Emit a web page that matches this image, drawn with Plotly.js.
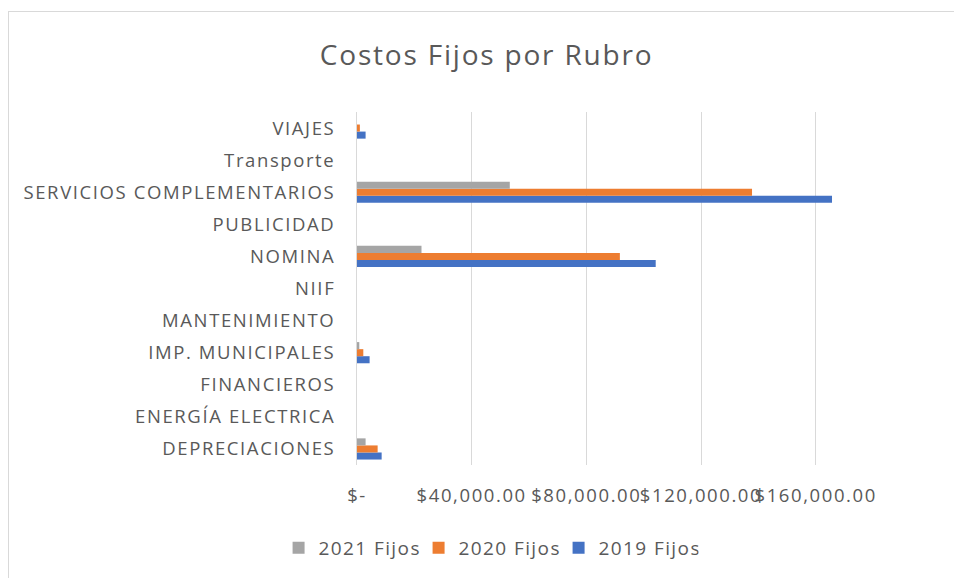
<!DOCTYPE html>
<html>
<head>
<meta charset="utf-8">
<script src="https://cdn.plot.ly/plotly-3.0.1.min.js"></script>
<style>
  html, body { margin: 0; padding: 0; background: #fff; }
  #wrap { position: relative; width: 954px; height: 578px; overflow: hidden; }
  #chart { position: absolute; left: 0; top: 0; width: 954px; height: 578px; }
  #frame { position: absolute; left: 8px; top: 11px; width: 960px; height: 600px;
           border-left: 1px solid #d9d9d9; border-top: 1px solid #d9d9d9; pointer-events: none; }
  .ytick text { letter-spacing: 1.6px; }
  .xtick text { letter-spacing: 1.6px; }
  .legendtext { letter-spacing: 1.4px; }
  .gtitle { letter-spacing: 1.8px; }
</style>
</head>
<body>
<div id="wrap">
  <div id="chart"></div>
  <div id="frame"></div>
</div>
<script>
const categories = ["DEPRECIACIONES", "ENERGÍA ELECTRICA", "FINANCIEROS", "IMP. MUNICIPALES",
  "MANTENIMIENTO", "NIIF", "NOMINA", "PUBLICIDAD", "SERVICIOS COMPLEMENTARIOS", "Transporte", "VIAJES"];
const fijos2019 = [8600, 0, 0, 4400, 0, 0, 104200, 0, 165700, 0, 3000];
const fijos2020 = [7200, 0, 0, 2200, 0, 0, 91700, 0, 137800, 0, 1000];
const fijos2021 = [3000, 0, 0, 800, 0, 0, 22500, 0, 53300, 0, 0];
const tickValues = [0, 40000, 80000, 120000, 160000];
const tickLabels = ["$-", "$40,000.00", "$80,000.00", "$120,000.00", "$160,000.00"];

const font = "Open Sans, Noto Sans, sans-serif";
const traces = [
  { name: "2019 Fijos", x: fijos2019, y: categories, type: "bar", orientation: "h",
    marker: { color: "#4472c4" } },
  { name: "2020 Fijos", x: fijos2020, y: categories, type: "bar", orientation: "h",
    marker: { color: "#ed7d31" } },
  { name: "2021 Fijos", x: fijos2021, y: categories, type: "bar", orientation: "h",
    marker: { color: "#a5a5a5" } }
];
const layout = {
  width: 954, height: 578,
  paper_bgcolor: "#ffffff", plot_bgcolor: "#ffffff",
  font: { family: font, color: "#595959", size: 18 },
  title: { text: "Costos Fijos por Rubro", x: 0.51, xanchor: "center", y: 0.905, yanchor: "middle",
           font: { family: font, size: 28, color: "#595959" } },
  barmode: "group", bargap: 0.34, bargroupgap: 0,
  margin: { l: 357, r: 81, t: 112, b: 113, autoexpand: false },
  xaxis: { range: [0, 180000], tickvals: tickValues, ticktext: tickLabels,
           showgrid: true, gridcolor: "#d9d9d9", gridwidth: 1, zeroline: false,
           showline: false, ticks: "", ticklabelstandoff: 17,
           tickfont: { size: 18.5, color: "#595959" }, fixedrange: true },
  yaxis: { type: "category", categoryorder: "array", categoryarray: categories,
           showline: true, linecolor: "#d9d9d9", linewidth: 1, showgrid: false, zeroline: false,
           ticks: "", ticklabelstandoff: 17, tickfont: { size: 18.5, color: "#595959" }, fixedrange: true },
  showlegend: true,
  legend: { orientation: "h", traceorder: "reversed", x: 0.255, xanchor: "center",
            y: -0.235, yanchor: "middle", font: { size: 19, color: "#595959" },
            itemwidth: 30, entrywidth: 95, entrywidthmode: "pixels" }
};
Plotly.newPlot("chart", traces, layout, { displayModeBar: false, staticPlot: true });
</script>
</body>
</html>
